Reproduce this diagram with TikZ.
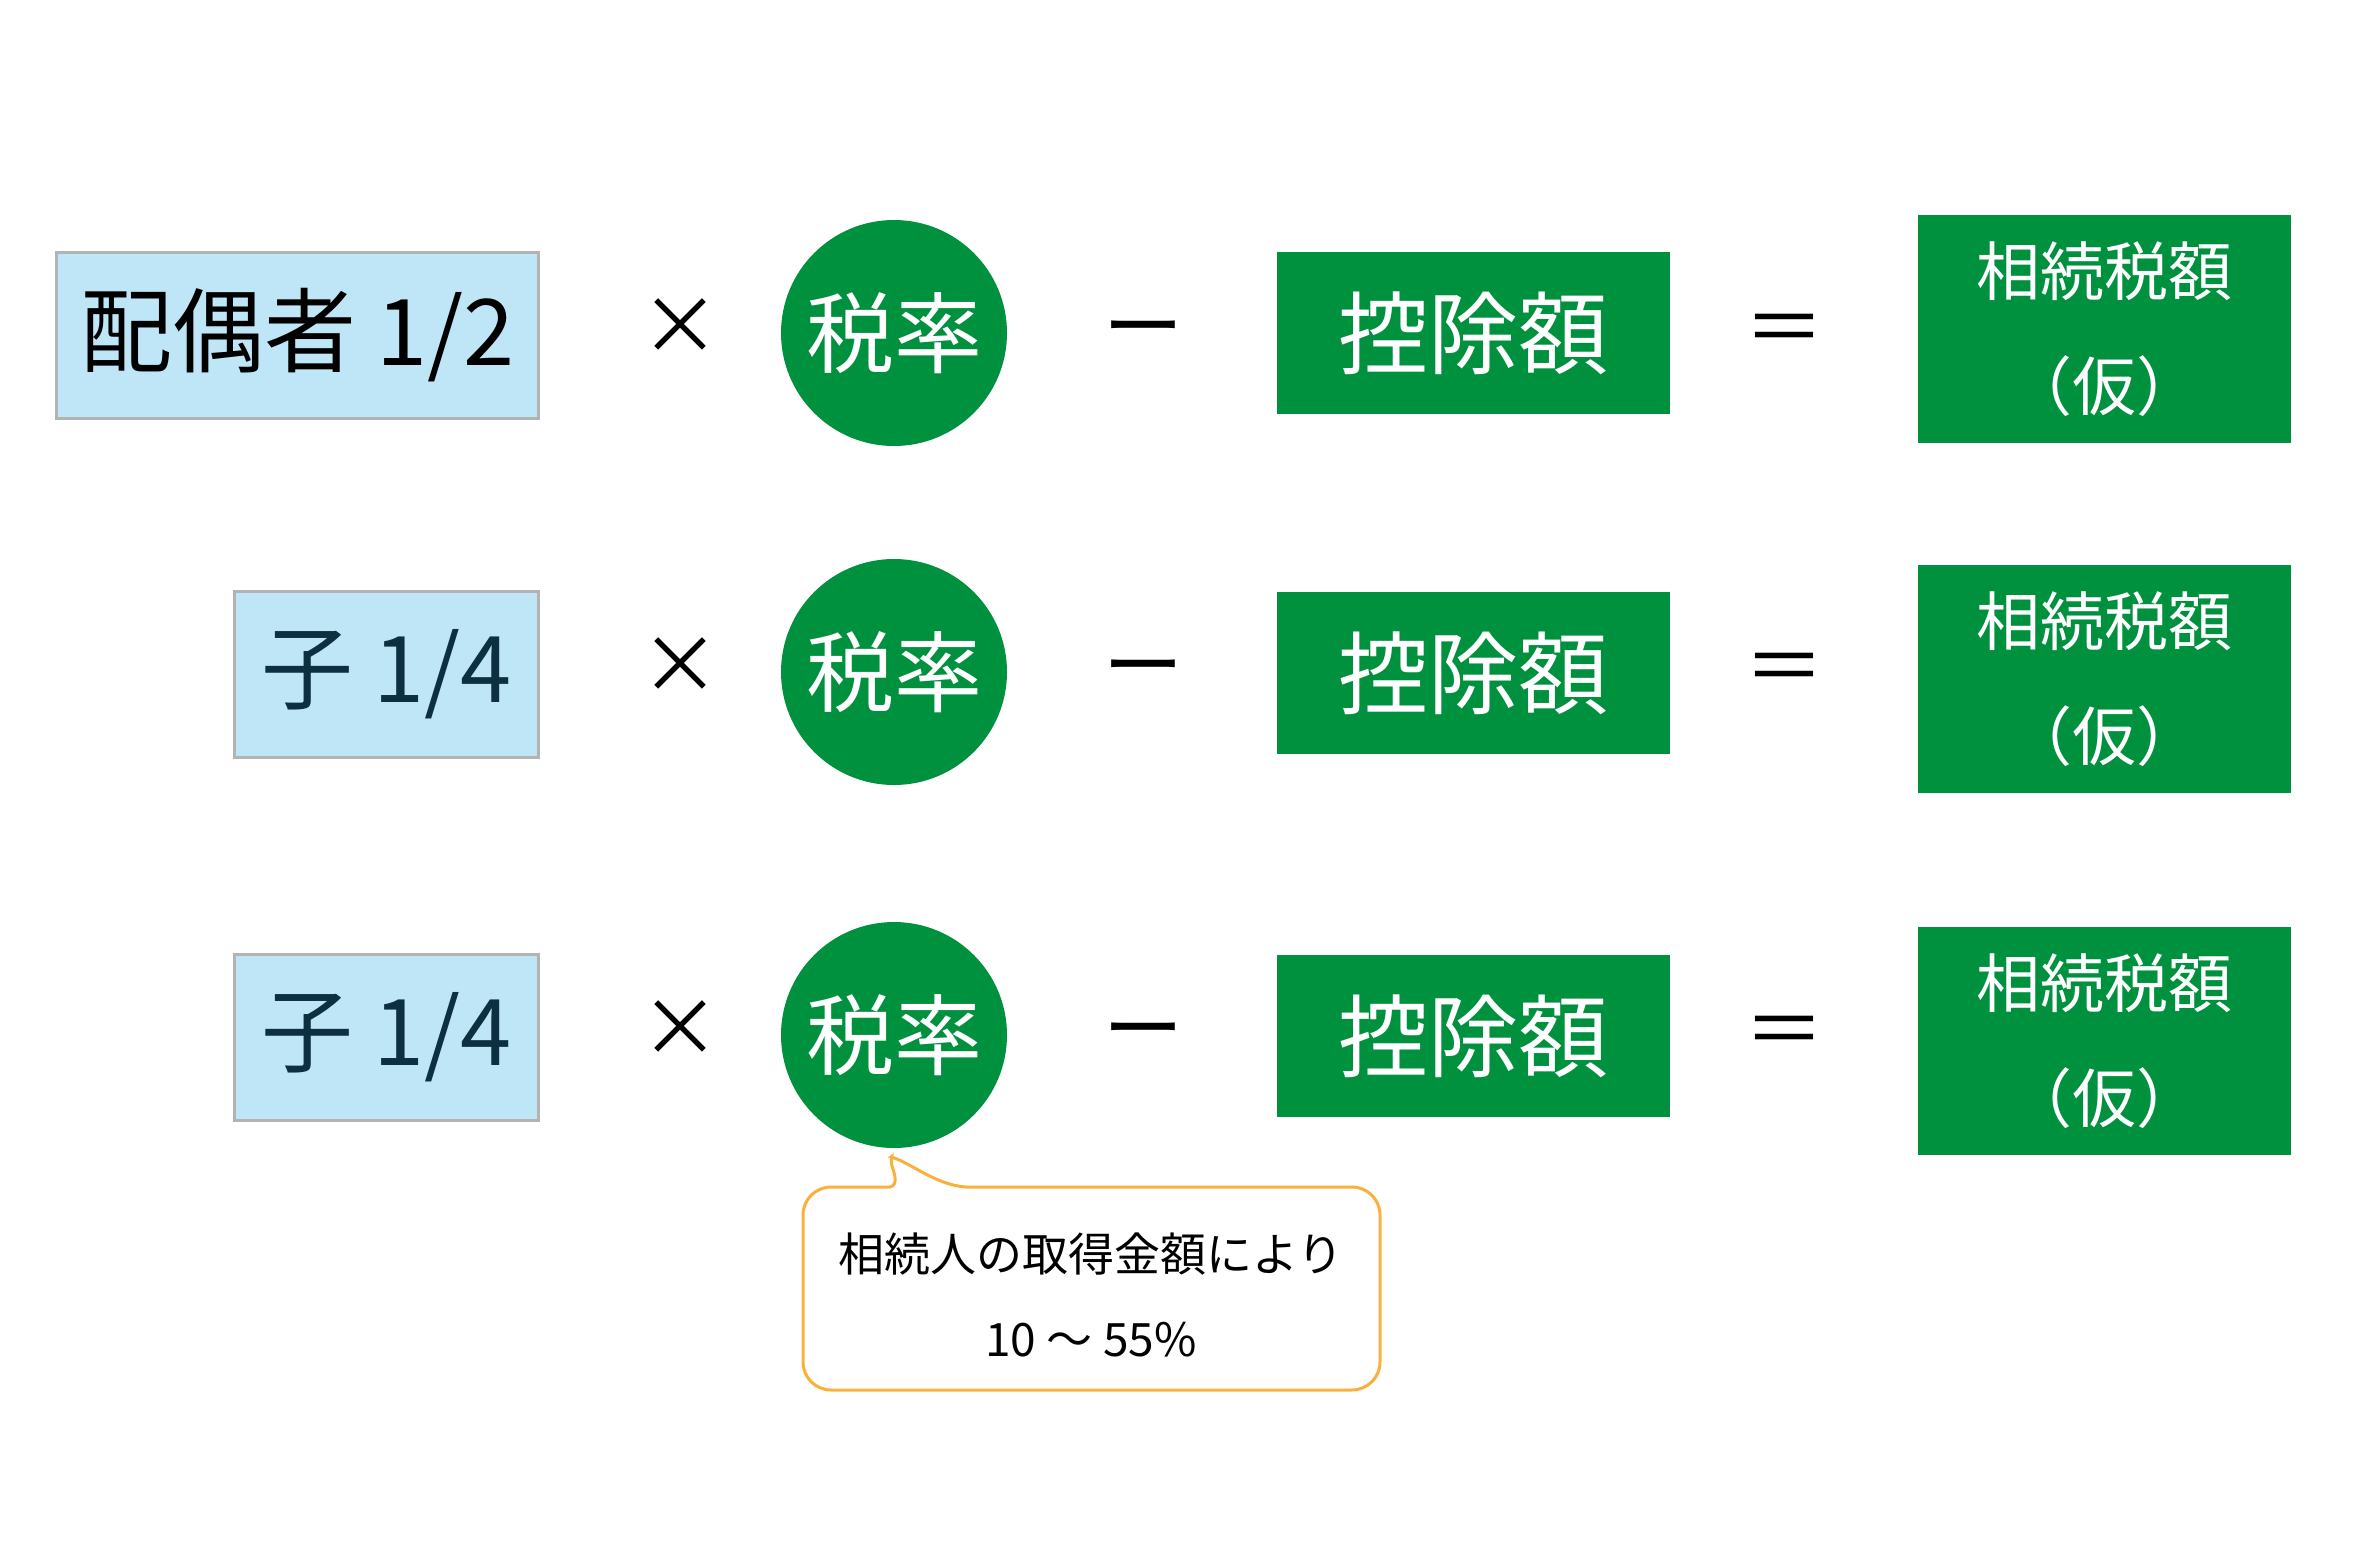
\documentclass[tikz,border=0pt]{standalone}
\usepackage{fontspec}
\setmainfont{Noto Sans CJK JP}
\definecolor{zgreen}{HTML}{00913F}
\definecolor{zblue}{HTML}{BFE6F6}
\definecolor{zgray}{HTML}{B3B3B3}
\definecolor{zorange}{HTML}{FBB03B}
\definecolor{znavy}{HTML}{0D3040}
\begin{document}
\begin{tikzpicture}[x=1pt,y=-1pt,
  sharebox/.style={draw=zgray,line width=3pt,fill=zblue,inner sep=0pt,anchor=north west},
  rate/.style={circle,fill=zgreen,text=white,minimum size=226pt,inner sep=0pt,font=\fontsize{88}{100}\selectfont},
  dedbox/.style={fill=zgreen,text=white,minimum width=393pt,minimum height=162pt,inner sep=0pt,font=\fontsize{90}{100}\selectfont},
  resbox/.style={fill=zgreen,text=white,minimum width=373pt,minimum height=228pt,inner sep=0pt,align=center,font=\fontsize{64}{115}\selectfont},
  op/.style={font=\fontsize{80}{90}\selectfont},
  big/.style={font=\fontsize{92}{100}\selectfont}]
\path[use as bounding box] (0,0) rectangle (2353,1559);

% Row 1
\node[sharebox,minimum width=482pt,minimum height=166pt] (s1) at (55,251) {};
\node[big,text=black] (s1t) at (s1.center) {配偶者 1/2};
\node[op] (m1) at (680,327) {×};
\node[rate] (r1) at (894,333) {税率};
\node[op] (n1) at (1143,338) {ー};
\node[dedbox] (d1) at (1473.5,333) {控除額};
\node[op] (e1) at (1784,335) {＝};
\node[resbox] (t1) at (2104.5,329) {相続税額\\（仮）};

% Row 2
\node[sharebox,minimum width=304pt,minimum height=166pt] (s2) at (233,590) {};
\node[big,text=znavy] (s2t) at (s2.center) {子 1/4};
\node[op] (m2) at (680,666) {×};
\node[rate] (r2) at (894,672) {税率};
\node[op] (n2) at (1143,677) {ー};
\node[dedbox] (d2) at (1473.5,673) {控除額};
\node[op] (e2) at (1784,674) {＝};
\node[resbox] (t2) at (2104.5,679) {相続税額\\（仮）};

% Row 3
\node[sharebox,minimum width=304pt,minimum height=166pt] (s3) at (233,953) {};
\node[big,text=znavy] (s3t) at (s3.center) {子 1/4};
\node[op] (m3) at (680,1029) {×};
\node[rate] (r3) at (894,1035) {税率};
\node[op] (n3) at (1143,1040) {ー};
\node[dedbox] (d3) at (1473.5,1036) {控除額};
\node[op] (e3) at (1784,1037) {＝};
\node[resbox] (t3) at (2104.5,1041) {相続税額\\（仮）};

% Callout
\coordinate (tip) at (891,1157);
\draw[draw=zorange,line width=3pt,fill=white]
  (966,1187) [rounded corners=28pt] -- (1380,1187) -- (1380,1390) -- (803,1390) -- (803,1187) [sharp corners] -- (890,1187)
  .. controls (898,1185) and (895,1175) .. (892,1166)
  .. controls (890,1158) and (893,1155) .. (tip)
  .. controls (910,1162) and (935,1185) .. cycle;
\node[font=\fontsize{46}{60}\selectfont,align=center] (c1) at (1091,1254) {相続人の取得金額により};
\node[font=\fontsize{46}{60}\selectfont] (c2) at (1091,1340) {10 ～ 55\%};
\end{tikzpicture}
\end{document}
